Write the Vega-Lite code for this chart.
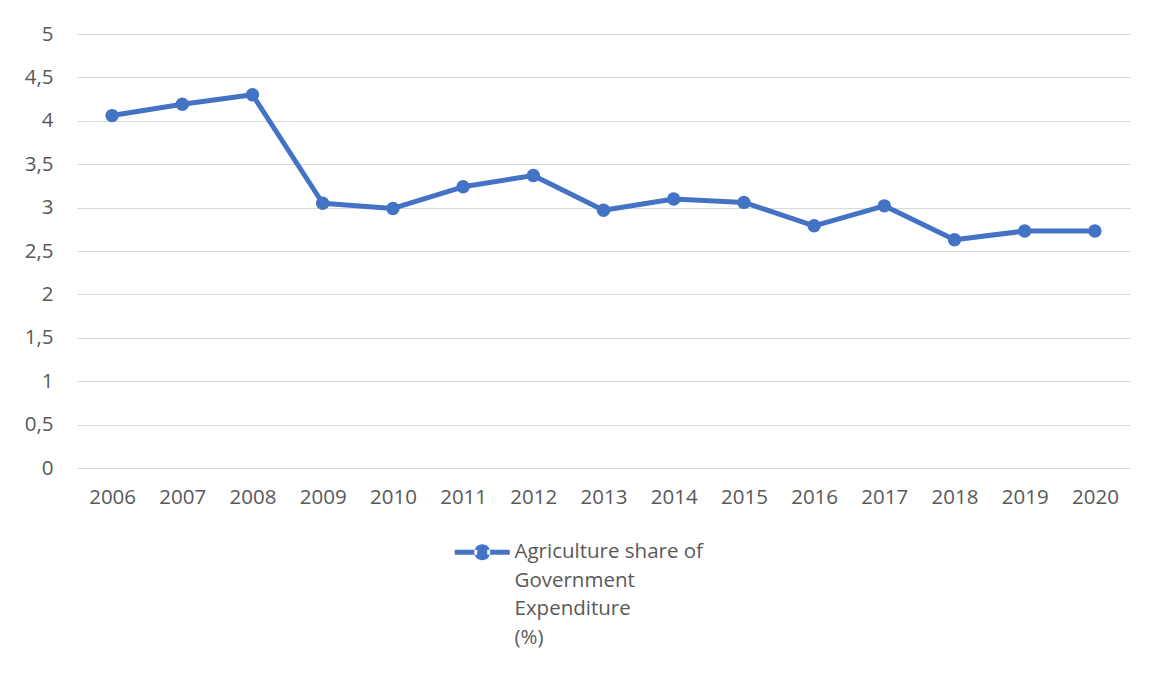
{
  "$schema": "https://vega.github.io/schema/vega-lite/v6.json",
  "width": 1053,
  "height": 434,
  "autosize": {"type": "none"},
  "padding": {"left": 77, "top": 34, "right": 27, "bottom": 209},
  "background": "white",
  "config": {
    "font": "Open Sans",
    "view": {"stroke": null},
    "axis": {"labelColor": "#595959", "labelFont": "Open Sans", "labelFontSize": 20.5, "gridColor": "#d9d9d9", "gridWidth": 1, "ticks": false, "title": null}
  },
  "data": {
    "values": [
      {"year": "2006", "value": 4.06, "series": "Agriculture share of Government Expenditure (%)"},
      {"year": "2007", "value": 4.19, "series": "Agriculture share of Government Expenditure (%)"},
      {"year": "2008", "value": 4.30, "series": "Agriculture share of Government Expenditure (%)"},
      {"year": "2009", "value": 3.05, "series": "Agriculture share of Government Expenditure (%)"},
      {"year": "2010", "value": 2.99, "series": "Agriculture share of Government Expenditure (%)"},
      {"year": "2011", "value": 3.24, "series": "Agriculture share of Government Expenditure (%)"},
      {"year": "2012", "value": 3.37, "series": "Agriculture share of Government Expenditure (%)"},
      {"year": "2013", "value": 2.97, "series": "Agriculture share of Government Expenditure (%)"},
      {"year": "2014", "value": 3.10, "series": "Agriculture share of Government Expenditure (%)"},
      {"year": "2015", "value": 3.06, "series": "Agriculture share of Government Expenditure (%)"},
      {"year": "2016", "value": 2.79, "series": "Agriculture share of Government Expenditure (%)"},
      {"year": "2017", "value": 3.02, "series": "Agriculture share of Government Expenditure (%)"},
      {"year": "2018", "value": 2.63, "series": "Agriculture share of Government Expenditure (%)"},
      {"year": "2019", "value": 2.73, "series": "Agriculture share of Government Expenditure (%)"},
      {"year": "2020", "value": 2.73, "series": "Agriculture share of Government Expenditure (%)"}
    ]
  },
  "encoding": {
    "x": {
      "field": "year", "type": "ordinal",
      "scale": {"type": "point", "padding": 0.5},
      "axis": {"labelAngle": 0, "grid": false, "domain": true, "domainColor": "#d9d9d9", "labelPadding": 19}
    },
    "y": {
      "field": "value", "type": "quantitative",
      "scale": {"domain": [0, 5], "nice": false},
      "axis": {"values": [0, 0.5, 1, 1.5, 2, 2.5, 3, 3.5, 4, 4.5, 5], "domain": false, "labelPadding": 24, "labelExpr": "replace(format(datum.value, '.1~f'), '.', ',')"}
    },
    "color": {
      "field": "series", "type": "nominal",
      "scale": {"range": ["#4472C4"]},
      "legend": {
        "title": null,
        "orient": "none",
        "legendX": 395,
        "legendY": 508,
        "labelFont": "Open Sans",
        "labelFontSize": 20.5,
        "labelColor": "#595959",
        "labelLimit": 400,
        "labelOffset": 22,
        "labelExpr": "['Agriculture share of', 'Government', 'Expenditure', '(%)']",
        "symbolType": "M-2.75,-0.25H-0.5V0.25H-2.75Z M0.5,-0.25H2.75V0.25H0.5Z M-0.8,0A0.8,0.8 0 1,0 0.8,0A0.8,0.8 0 1,0 -0.8,0Z",
        "symbolSize": 400,
        "symbolStrokeWidth": 0,
        "symbolFillColor": "#4472C4",
        "encode": {"labels": {"update": {"lineHeight": {"value": 28.6}}}}
      }
    }
  },
  "layer": [
    {"mark": {"type": "line", "strokeWidth": 5, "strokeJoin": "round", "strokeCap": "round"}},
    {"mark": {"type": "point", "filled": true, "size": 180, "opacity": 1}}
  ]
}
